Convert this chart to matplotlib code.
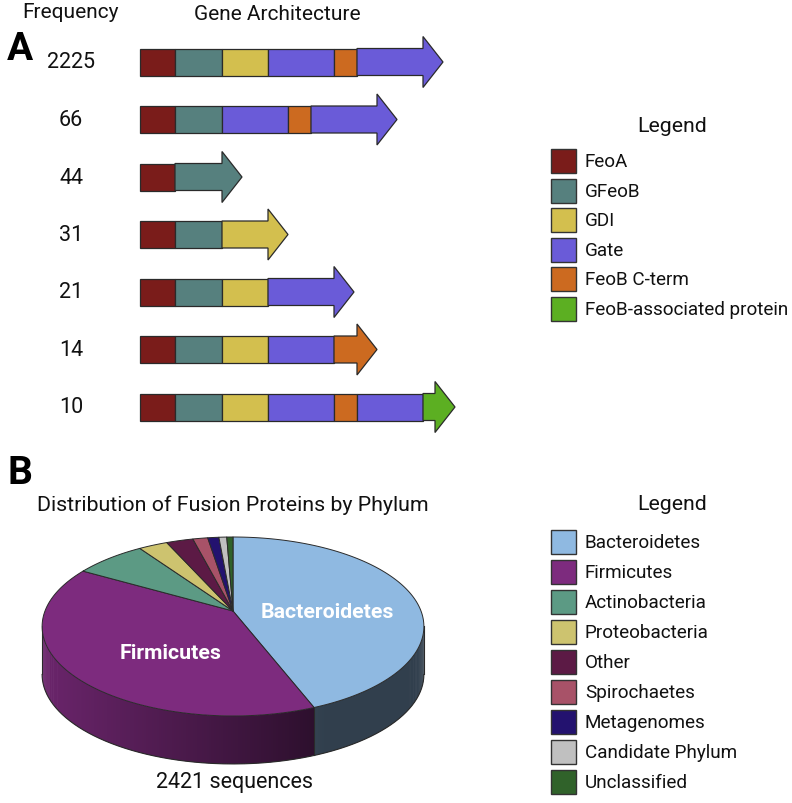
import numpy as np
import matplotlib
matplotlib.use("Agg")
import matplotlib.pyplot as plt
from matplotlib.patches import Polygon, Rectangle
from matplotlib.colors import to_rgb

plt.rcParams['font.family'] = ['Roboto', 'DejaVu Sans']

# ---------------- Panel A data ----------------
domains = ["FeoA", "GFeoB", "GDI", "Gate", "FeoB C-term", "FeoB-associated protein"]
domain_colors = ["#7a1c1a", "#56807e", "#d3bf4e", "#6a5bd8", "#cc6a20", "#5caf22"]
domain_lengths = [35, 47, 46, 66, 23, 12]
frequencies = [2225, 66, 44, 31, 21, 14, 10]
architectures = [
    ["FeoA", "GFeoB", "GDI", "Gate", "FeoB C-term", "Gate"],
    ["FeoA", "GFeoB", "Gate", "FeoB C-term", "Gate"],
    ["FeoA", "GFeoB"],
    ["FeoA", "GFeoB", "GDI"],
    ["FeoA", "GFeoB", "GDI", "Gate"],
    ["FeoA", "GFeoB", "GDI", "Gate", "FeoB C-term"],
    ["FeoA", "GFeoB", "GDI", "Gate", "FeoB C-term", "Gate", "FeoB-associated protein"],
]

# ---------------- Panel B data ----------------
phyla = ["Bacteroidetes", "Firmicutes", "Actinobacteria", "Proteobacteria", "Other",
         "Spirochaetes", "Metagenomes", "Candidate Phylum", "Unclassified"]
phylum_counts = [1068, 949, 172, 70, 65, 36, 27, 19, 15]
phylum_colors = ["#8fb9e1", "#7d2b7e", "#5c9a84", "#cdc36f", "#5c1a45",
                 "#a85268", "#23126f", "#c0c0c0", "#30622a"]
pie_labels = ["Bacteroidetes", "Firmicutes"]

# ---------------- layout ----------------
W, H = 792, 804
fig = plt.figure(figsize=(W / 100, H / 100), dpi=100)
ax = fig.add_axes([0, 0, 1, 1])
ax.set_xlim(0, W)
ax.set_ylim(H, 0)
ax.axis('off')

EDGE = "#2a2a2a"
TXT = "#111111"
len_of = dict(zip(domains, domain_lengths))
col_of = dict(zip(domains, domain_colors))

x0 = 140
row_y0, row_dy = 63, 57.5
bar_h, head_half, head_len = 27, 25.5, 20

ax.text(70, 13, "Frequency", ha='center', va='center', fontsize=15, color=TXT)
ax.text(277, 15, "Gene Architecture", ha='center', va='center', fontsize=15, color=TXT)
ax.text(20, 49, "A", ha='center', va='center', fontsize=28, fontweight='bold', color='#000')

for i, (freq, arch) in enumerate(zip(frequencies, architectures)):
    yc = row_y0 + i * row_dy
    ax.text(71, yc, str(freq), ha='center', va='center', fontsize=15.5, color=TXT)
    x = x0
    top, bot = yc - bar_h / 2, yc + bar_h / 2
    for j, d in enumerate(arch):
        L = len_of[d]
        if j < len(arch) - 1:
            ax.add_patch(Rectangle((x, top), L, bar_h, facecolor=col_of[d],
                                   edgecolor=EDGE, lw=0.9, zorder=2))
        else:
            xb = x + L
            pts = [(x, top), (xb, top), (xb, yc - head_half), (xb + head_len, yc),
                   (xb, yc + head_half), (xb, bot), (x, bot)]
            ax.add_patch(Polygon(pts, closed=True, facecolor=col_of[d],
                                 edgecolor=EDGE, lw=0.9, zorder=2, joinstyle='miter'))
        x += L

# legend A
ax.text(672, 127, "Legend", ha='center', va='center', fontsize=15.3, color=TXT)
for k, (d, c) in enumerate(zip(domains, domain_colors)):
    yc = 162 + k * 29.6
    ax.add_patch(Rectangle((551, yc - 12), 25, 24, facecolor=c, edgecolor='#333', lw=1))
    ax.text(585, yc, d, ha='left', va='center', fontsize=13.6, color=TXT)

# ---------------- Panel B: 3D pie ----------------
ax.text(20, 474, "B", ha='center', va='center', fontsize=28, fontweight='bold', color='#000')
ax.text(233, 505, "Distribution of Fusion Proteins by Phylum", ha='center', va='center',
        fontsize=15.4, color=TXT)
ax.text(234, 783, "2421 sequences", ha='center', va='center', fontsize=15.5, color=TXT)

cx, cy = 233, 612
A_, B_, cpers = 188, 86.8, 0.173
depth = 48

def proj(theta_deg, r=1.0):
    t = np.radians(theta_deg)
    u, v = r * np.sin(t), r * np.cos(t)
    w = 1 + cpers * v
    return cx + A_ * u / w, cy - B_ * v / w

counts = np.array(phylum_counts, float)
bounds = np.concatenate([[0], np.cumsum(counts) / counts.sum() * 360])

def shade(xp):
    f = 0.85 - (0.85 - 0.36) * (xp - 43) / (315 - 43)
    return float(np.clip(f, 0.34, 0.85))

th_r = np.degrees(np.arccos(-cpers))
th_l = 360 - th_r
# side strips (overlapping slightly to avoid seams)
for k in range(len(phyla)):
    a0, a1 = max(bounds[k], th_r), min(bounds[k + 1], th_l)
    if a1 <= a0:
        continue
    n = max(2, int((a1 - a0) / 0.6) + 1)
    ts = np.linspace(a0, a1, n)
    base = np.array(to_rgb(phylum_colors[k]))
    for t0, t1 in zip(ts[:-1], ts[1:]):
        xa, ya = proj(t0)
        xm, ym = proj((t0 + t1) / 2)
        t1e = min(t1 + 0.5, a1)
        xb, yb = proj(t1e)
        col = base * shade(xm)
        ax.add_patch(Polygon([(xa, ya), (xm, ym), (xb, yb), (xb, yb + depth),
                              (xm, ym + depth), (xa, ya + depth)],
                             closed=True, facecolor=col, edgecolor='none', zorder=3))
# side outlines
ts = np.linspace(th_r, th_l, 300)
xs, ys = zip(*[proj(t) for t in ts])
ax.plot(xs, np.array(ys) + depth, color=EDGE, lw=0.8, zorder=4)
for t in (th_r, th_l):
    xa, ya = proj(t)
    ax.plot([xa, xa], [ya, ya + depth], color=EDGE, lw=0.8, zorder=4)
for b in bounds[1:-1]:
    if th_r < b < th_l:
        xa, ya = proj(b)
        ax.plot([xa, xa], [ya, ya + depth], color=EDGE, lw=0.8, zorder=4)

# top face
for k in range(len(phyla)):
    n = max(3, int((bounds[k + 1] - bounds[k]) / 0.5) + 2)
    ts = np.linspace(bounds[k], bounds[k + 1], n)
    pts = [(cx, cy)] + [proj(t) for t in ts]
    ax.add_patch(Polygon(pts, closed=True, facecolor=phylum_colors[k], edgecolor=EDGE,
                         lw=0.7, zorder=5, joinstyle='round'))

label_pos = {"Bacteroidetes": (0.52, 9), "Firmicutes": (0.42, 17)}
for name in pie_labels:
    k = phyla.index(name)
    r, dy = label_pos[name]
    mid = (bounds[k] + bounds[k + 1]) / 2
    lx, ly = proj(mid, r)
    ax.text(lx, ly + dy, name, ha='center', va='center', fontsize=15.3,
            fontweight='bold', color='white', zorder=6)

# legend B
ax.text(672, 505, "Legend", ha='center', va='center', fontsize=15.3, color=TXT)
for k, (p, c) in enumerate(zip(phyla, phylum_colors)):
    yc = 543 + k * 30
    ax.add_patch(Rectangle((551, yc - 12), 25, 24, facecolor=c, edgecolor='#333', lw=1))
    ax.text(585, yc, p, ha='left', va='center', fontsize=13.6, color=TXT)

fig.savefig("out.png", dpi=100)
